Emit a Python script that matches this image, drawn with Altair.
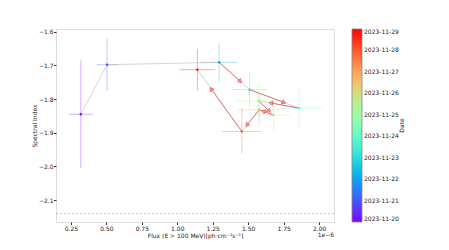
import math
import altair as alt
import pandas as pd

# ---- data ----
dates = ["2023-11-20", "2023-11-21", "2023-11-22", "2023-11-23", "2023-11-24",
         "2023-11-25", "2023-11-26", "2023-11-27", "2023-11-28", "2023-11-29"]
flux = [0.32, 0.505, 1.295, 1.51, 1.86, 1.572, 1.678, 1.578, 1.455, 1.142]          # x 1e-6
flux_err = [0.085, 0.074, 0.126, 0.123, 0.159, 0.16, 0.12, 0.15, 0.14, 0.126]
index = [-1.845, -1.698, -1.691, -1.772, -1.827, -1.805, -1.848, -1.832, -1.896, -1.713]
index_err = [0.16, 0.078, 0.057, 0.053, 0.058, 0.052, 0.047, 0.047, 0.067, 0.062]
ref_index = [-2.14]
arrow_from = 2   # arrows drawn for transitions starting at this position

x_ticks = [0.25, 0.50, 0.75, 1.00, 1.25, 1.50, 1.75, 2.00]
y_ticks = [-2.1, -2.0, -1.9, -1.8, -1.7, -1.6]

# ---- layout ----
W, H = 278, 193
XDOM = [0.145, 2.105]
YDOM = [-2.165, -1.592]
FONT = "DejaVu Sans"
FS = 6

day0 = pd.Timestamp(dates[0])
days = [(pd.Timestamp(d) - day0).days for d in dates]

df = pd.DataFrame({
    "day": days, "date": dates, "flux": flux, "index": index,
    "fx0": [f - e for f, e in zip(flux, flux_err)],
    "fx1": [f + e for f, e in zip(flux, flux_err)],
    "iy0": [i - e for i, e in zip(index, index_err)],
    "iy1": [i + e for i, e in zip(index, index_err)],
    "order": list(range(len(dates))),
})

# arrows
sx = W / (XDOM[1] - XDOM[0])
sy = H / (YDOM[1] - YDOM[0])
rows = []
for k in range(arrow_from, len(dates) - 1):
    x0, y0, x1, y1 = flux[k], index[k], flux[k + 1], index[k + 1]
    dxp = (x1 - x0) * sx
    dyp = -(y1 - y0) * sy
    ang = math.degrees(math.atan2(dxp, -dyp)) % 360
    rows.append({
        "x0": x0, "y0": y0,
        "x1": x0 + 0.70 * (x1 - x0), "y1": y0 + 0.70 * (y1 - y0),
        "hx": x0 + 0.68 * (x1 - x0), "hy": y0 + 0.68 * (y1 - y0),
        "ang": ang,
    })
arr = pd.DataFrame(rows)


def rainbow(t):
    r = min(1, max(0, abs(2 * t - 0.5)))
    g = min(1, max(0, math.sin(math.pi * t)))
    b = min(1, max(0, math.cos(math.pi * t / 2)))
    return "#%02x%02x%02x" % (round(r * 255), round(g * 255), round(b * 255))


stops = [rainbow(i / 20) for i in range(21)]
label_arr = "[" + ",".join("'%s'" % d for d in dates) + "]"

xs = alt.Scale(domain=XDOM, nice=False, zero=False)
ys = alt.Scale(domain=YDOM, nice=False, zero=False)
cs = alt.Scale(domain=[days[0], days[-1]], range=stops, interpolate="rgb")

color = alt.Color(
    "day:Q", scale=cs,
    legend=alt.Legend(
        type="gradient",
        orient="none", legendX=296, legendY=0, direction="vertical",
        gradientLength=H, gradientThickness=10, gradientOpacity=1,
        tickCount=len(days), labelExpr=label_arr + "[datum.value]",
        title=None,
    ),
)

xaxis = alt.Axis(values=x_ticks, format=".2f",
                 title="Flux (E > 100 MeV)[ph·cm⁻²s⁻¹]", titlePadding=1)
yaxis = alt.Axis(values=y_ticks,
                 labelExpr="replace(format(datum.value, '.1f'), '-', '\u2212')",
                 title="Spectral Index", titlePadding=1)

base = alt.Chart(df)

ref = alt.Chart(pd.DataFrame({"y": ref_index})).mark_rule(
    color="#aaa", strokeWidth=0.7, strokeDash=[2, 2]
).encode(y=alt.Y("y:Q", scale=ys, axis=yaxis))

xerr = base.mark_rule(strokeWidth=1, opacity=0.33).encode(
    x=alt.X("fx0:Q", scale=xs, axis=xaxis), x2="fx1",
    y=alt.Y("index:Q", scale=ys, axis=yaxis),
    color=color)
yerr = base.mark_rule(strokeWidth=1, opacity=0.33).encode(
    x=alt.X("flux:Q", scale=xs, axis=xaxis), y=alt.Y("iy0:Q", scale=ys, axis=yaxis),
    y2="iy1", color=color)

line = base.mark_line(color="#bbb", strokeWidth=0.8, opacity=0.8).encode(
    x=alt.X("flux:Q", scale=xs, axis=xaxis), y=alt.Y("index:Q", scale=ys, axis=yaxis),
    order="order:Q")

ashaft = alt.Chart(arr).mark_rule(color="#e03030", strokeWidth=0.8, opacity=0.75).encode(
    x=alt.X("x0:Q", scale=xs, axis=xaxis), y=alt.Y("y0:Q", scale=ys, axis=yaxis),
    x2="x1", y2="y1")
ahead = alt.Chart(arr).mark_point(
    shape="triangle", filled=True, fill="#f4a0a0", fillOpacity=0.5,
    stroke="#e03030", strokeWidth=0.7, size=18, opacity=0.85
).encode(x=alt.X("hx:Q", scale=xs, axis=xaxis), y=alt.Y("hy:Q", scale=ys, axis=yaxis),
         angle=alt.Angle("ang:Q", scale=None))

pts = base.mark_point(filled=False, shape="circle", size=1.2, strokeWidth=1.4,
                      opacity=1).encode(
    x=alt.X("flux:Q", scale=xs, axis=xaxis), y=alt.Y("index:Q", scale=ys, axis=yaxis),
    color=color)

txt = pd.DataFrame({"t": ["1e\u22126"]})
offset_txt = alt.Chart(txt).mark_text(
    align="right", baseline="middle", font=FONT, fontSize=FS, color="#222"
).encode(text="t:N", x=alt.value(W), y=alt.value(H + 12.5))

cb_title = alt.Chart(pd.DataFrame({"t": ["Date"]})).mark_text(
    align="center", baseline="middle", font=FONT, fontSize=FS, color="#222", angle=270
).encode(text="t:N", x=alt.value(346), y=alt.value(H / 2))

chart = alt.layer(ref, xerr, yerr, line, ashaft, ahead, pts, offset_txt, cb_title).properties(
    width=W, height=H,
    autosize=alt.AutoSizeParams(type="none"),
    padding={"left": 48, "top": 21, "right": 100, "bottom": 20},
).configure_view(stroke="#888", strokeWidth=0.8).configure(
    background="white"
).configure_axis(
    grid=False, domain=False, labelOverlap=False, labelFlush=False,
    tickColor="#333", tickSize=2.5, labelFont=FONT, labelFontSize=FS,
    labelColor="#222", labelPadding=0.5, titleFont=FONT, titleFontSize=FS,
    titleFontWeight="normal", titleColor="#222",
).configure_legend(
    gradientStrokeColor="#888", gradientStrokeWidth=0.8,
    labelOverlap=False, labelBaseline="middle",
    labelFont=FONT, labelFontSize=FS, labelColor="#222", labelOffset=1.5,
    padding=0, gradientLabelLimit=200,
)

chart.save("out.html", embed_options={"renderer": "svg", "actions": False})
